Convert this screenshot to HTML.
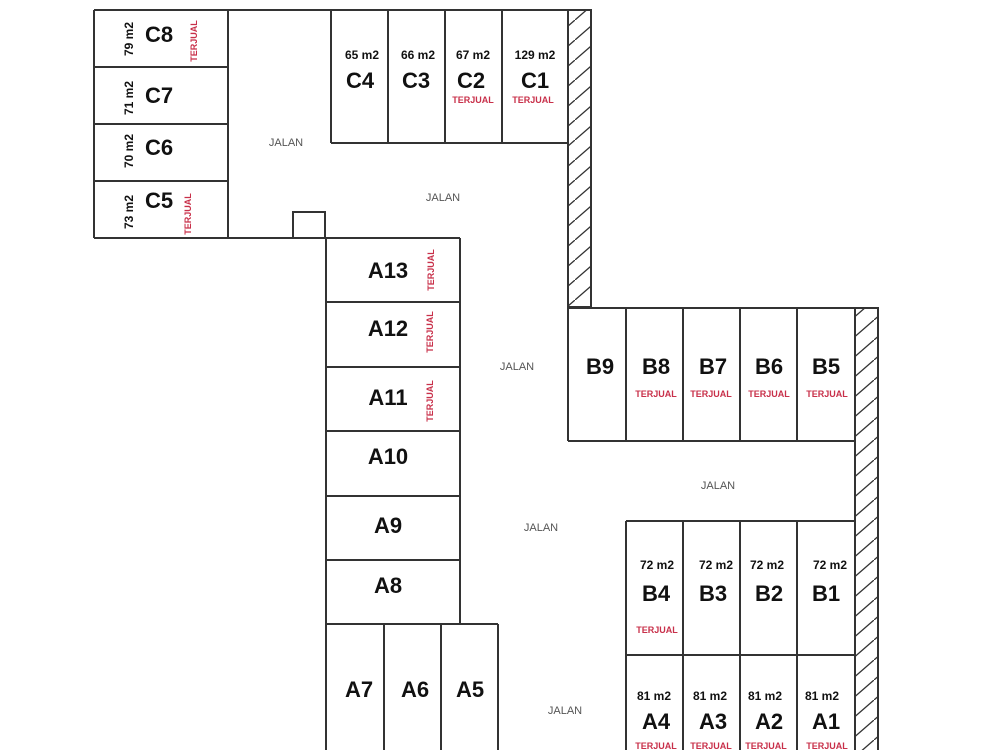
<!DOCTYPE html>
<html><head><style>html,body{margin:0;padding:0;background:#fff}svg{display:block}</style></head><body>
<svg width="1000" height="750" viewBox="0 0 1000 750" xmlns="http://www.w3.org/2000/svg" font-family="Liberation Sans, sans-serif">
<defs>
<pattern id="h" width="23" height="20" patternUnits="userSpaceOnUse">
<line x1="0" y1="20" x2="23" y2="0" stroke="#333" stroke-width="1.3"/>
</pattern>
</defs>
<rect width="1000" height="750" fill="#fff"/>
<g fill="none" stroke="#333" stroke-width="2">
<!-- hatched walls -->
<rect x="568" y="10" width="23" height="297" fill="url(#h)"/>
<rect x="855" y="308" width="23" height="450" fill="url(#h)"/>
<!-- C block left -->
<line x1="94" y1="10" x2="591" y2="10"/>
<line x1="94" y1="10" x2="94" y2="238"/>
<line x1="228" y1="10" x2="228" y2="238"/>
<line x1="94" y1="67" x2="228" y2="67"/>
<line x1="94" y1="124" x2="228" y2="124"/>
<line x1="94" y1="181" x2="228" y2="181"/>
<line x1="94" y1="238" x2="460" y2="238"/>
<rect x="293" y="212" width="32" height="26"/>
<!-- C4-C1 -->
<line x1="331" y1="10" x2="331" y2="143"/>
<line x1="388" y1="10" x2="388" y2="143"/>
<line x1="445" y1="10" x2="445" y2="143"/>
<line x1="502" y1="10" x2="502" y2="143"/>
<line x1="331" y1="143" x2="568" y2="143"/>
<!-- A block -->
<line x1="326" y1="238" x2="326" y2="750"/>
<line x1="460" y1="238" x2="460" y2="624"/>
<line x1="326" y1="302" x2="460" y2="302"/>
<line x1="326" y1="367" x2="460" y2="367"/>
<line x1="326" y1="431" x2="460" y2="431"/>
<line x1="326" y1="496" x2="460" y2="496"/>
<line x1="326" y1="560" x2="460" y2="560"/>
<line x1="326" y1="624" x2="498" y2="624"/>
<line x1="384" y1="624" x2="384" y2="750"/>
<line x1="441" y1="624" x2="441" y2="750"/>
<line x1="498" y1="624" x2="498" y2="750"/>
<!-- B row top -->
<line x1="568" y1="308" x2="878" y2="308"/>
<line x1="568" y1="308" x2="568" y2="441"/>
<line x1="626" y1="308" x2="626" y2="441"/>
<line x1="683" y1="308" x2="683" y2="441"/>
<line x1="740" y1="308" x2="740" y2="441"/>
<line x1="797" y1="308" x2="797" y2="441"/>
<line x1="568" y1="441" x2="855" y2="441"/>
<!-- B4-B1 / A4-A1 -->
<line x1="626" y1="521" x2="855" y2="521"/>
<line x1="626" y1="655" x2="855" y2="655"/>
<line x1="626" y1="521" x2="626" y2="750"/>
<line x1="683" y1="521" x2="683" y2="750"/>
<line x1="740" y1="521" x2="740" y2="750"/>
<line x1="797" y1="521" x2="797" y2="750"/>
</g>
<g font-weight="bold" font-size="22" fill="#111" text-anchor="middle">
<text x="159" y="42">C8</text><text x="159" y="103">C7</text><text x="159" y="155">C6</text><text x="159" y="208">C5</text>
<text x="360" y="88">C4</text><text x="416" y="88">C3</text><text x="471" y="88">C2</text><text x="535" y="88">C1</text>
<text x="388" y="278">A13</text><text x="388" y="336">A12</text><text x="388" y="405">A11</text><text x="388" y="464">A10</text>
<text x="388" y="533">A9</text><text x="388" y="593">A8</text>
<text x="359" y="697">A7</text><text x="415" y="697">A6</text><text x="470" y="697">A5</text>
<text x="600" y="374">B9</text><text x="656" y="374">B8</text><text x="713" y="374">B7</text><text x="769" y="374">B6</text><text x="826" y="374">B5</text>
<text x="656" y="601">B4</text><text x="713" y="601">B3</text><text x="769" y="601">B2</text><text x="826" y="601">B1</text>
<text x="656" y="729">A4</text><text x="713" y="729">A3</text><text x="769" y="729">A2</text><text x="826" y="729">A1</text>
</g>
<g font-weight="bold" font-size="12" fill="#111" text-anchor="middle">
<text x="362" y="59">65 m2</text><text x="418" y="59">66 m2</text><text x="473" y="59">67 m2</text><text x="535" y="59">129 m2</text>
<text x="657" y="569">72 m2</text><text x="716" y="569">72 m2</text><text x="767" y="569">72 m2</text><text x="830" y="569">72 m2</text>
<text x="654" y="700">81 m2</text><text x="710" y="700">81 m2</text><text x="765" y="700">81 m2</text><text x="822" y="700">81 m2</text>
<text transform="translate(133,39) rotate(-90)">79 m2</text>
<text transform="translate(133,98) rotate(-90)">71 m2</text>
<text transform="translate(133,151) rotate(-90)">70 m2</text>
<text transform="translate(133,212) rotate(-90)">73 m2</text>
</g>
<g font-weight="bold" font-size="9" fill="#c8304a" text-anchor="middle">
<text x="473" y="103">TERJUAL</text><text x="533" y="103">TERJUAL</text>
<text x="656" y="397">TERJUAL</text><text x="711" y="397">TERJUAL</text><text x="769" y="397">TERJUAL</text><text x="827" y="397">TERJUAL</text>
<text x="657" y="633">TERJUAL</text>
<text x="656" y="749">TERJUAL</text><text x="711" y="749">TERJUAL</text><text x="766" y="749">TERJUAL</text><text x="827" y="749">TERJUAL</text>
<text transform="translate(197,41) rotate(-90)">TERJUAL</text>
<text transform="translate(191,214) rotate(-90)">TERJUAL</text>
<text transform="translate(434,270) rotate(-90)">TERJUAL</text>
<text transform="translate(433,332) rotate(-90)">TERJUAL</text>
<text transform="translate(433,401) rotate(-90)">TERJUAL</text>
</g>
<g font-size="11" fill="#555" text-anchor="middle">
<text x="286" y="146">JALAN</text><text x="443" y="201">JALAN</text><text x="517" y="370">JALAN</text>
<text x="718" y="489">JALAN</text><text x="541" y="531">JALAN</text><text x="565" y="714">JALAN</text>
</g>
</svg>
</body></html>
